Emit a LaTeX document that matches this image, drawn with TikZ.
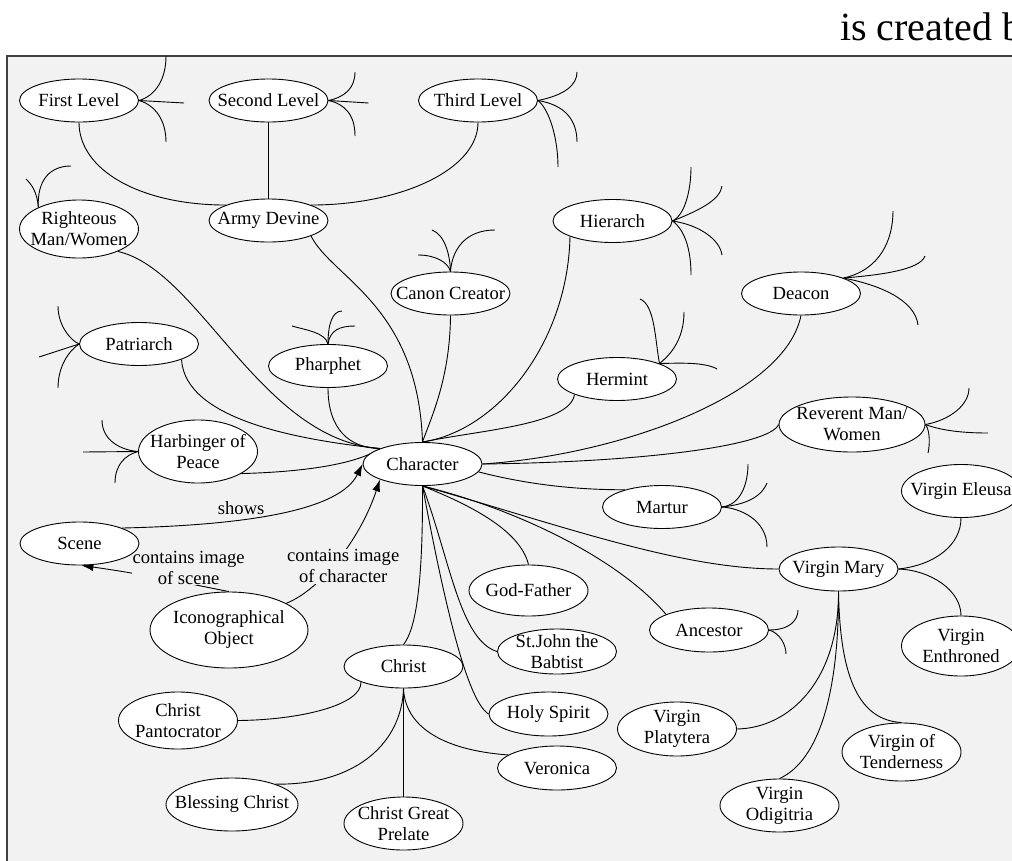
\documentclass[tikz,border=0pt]{standalone}
\usepackage{fontspec}
\setmainfont{Liberation Serif}
\usetikzlibrary{arrows.meta, shapes.geometric, backgrounds}
\definecolor{panelgray}{HTML}{F2F2F2}
\definecolor{framegray}{HTML}{404040}

\begin{document}
\begin{tikzpicture}[x=1pt, y=-1pt,
  ent/.style={ellipse, draw, fill=white, line width=0.9pt,
              minimum width=119pt, minimum height=43pt,
              inner xsep=-26pt, inner ysep=-13pt,
              font=\fontsize{18.6}{21}\selectfont, align=center},
  lnk/.style={line width=0.9pt},
  arr/.style={lnk, -{Latex[length=12pt, width=8pt]}},
  lbl/.style={fill=panelgray, inner sep=1pt, align=center,
              font=\fontsize{18.6}{21}\selectfont},
  panel/.style={draw=framegray, fill=panelgray, line width=1.2pt},
]
\useasboundingbox (0,0) rectangle (1012,860);

\node[font=\fontsize{40}{46}\selectfont, anchor=base west, inner sep=0pt]
  (caption) at (840,40) {is created b};

% ---- Upper levels ----------------------------------------------------------
\node[ent] (first) at (79,100.5) {First Level};
\node[ent] (second) at (268.5,100.5) {Second Level};
\node[ent] (third) at (478,100.5) {Third Level};
\node[ent] (army) at (268.5,220.5) {Army Devine};
\node[ent, minimum height=58pt] (righteous) at (79,229) {Righteous\\Man/Women};
\node[ent] (hierarch) at (612.5,221) {Hierarch};
\node[ent] (deacon) at (801,293.5) {Deacon};
\node[ent] (canon) at (450.5,293.5) {Canon Creator};
\node[ent] (patriarch) at (139,344) {Patriarch};
\node[ent] (pharphet) at (328,366) {Pharphet};
\node[ent] (hermint) at (617,379) {Hermint};
\node[ent, minimum width=146pt, minimum height=55pt] (reverent) at (852,424.5) {Reverent Man/\\Women};
\node[ent, minimum height=63pt] (harbinger) at (198,451.5) {Harbinger of\\Peace};

% ---- Centre ----------------------------------------------------------------
\node[ent] (character) at (422.5,464) {Character};
\node[ent] (martur) at (662,507) {Martur};
\node[ent, minimum height=53pt] (eleusa) at (961,491) {Virgin Eleusa};
\node[ent] (scene) at (79.5,543.5) {Scene};
\node[ent, minimum height=44pt] (mary) at (838.5,569) {Virgin Mary};
\node[ent, minimum height=51pt] (godfather) at (528.5,590.5) {God-Father};
\node[ent, minimum width=158pt, minimum height=76pt] (icon) at (229,630) {Iconographical\\Object};
\node[ent, minimum height=44pt] (ancestor) at (709,630) {Ancestor};
\node[ent, minimum height=45pt] (stjohn) at (557,651.5) {St.John the\\Babtist};
\node[ent, minimum height=60pt] (enthroned) at (961,646) {Virgin\\Enthroned};

% ---- Lower part ------------------------------------------------------------
\node[ent] (christ) at (403.5,666.5) {Christ};
\node[ent, minimum height=44pt] (holyspirit) at (548.5,714) {Holy Spirit};
\node[ent, minimum height=57pt] (pantocrator) at (178,720.5) {Christ\\Pantocrator};
\node[ent, minimum height=54pt] (platytera) at (677,729) {Virgin\\Platytera};
\node[ent, minimum height=58pt] (tenderness) at (901.5,752) {Virgin of\\Tenderness};
\node[ent, minimum height=44pt] (veronica) at (557,768) {Veronica};
\node[ent, minimum width=132pt, minimum height=53pt] (blessing) at (232,804.5) {Blessing Christ};
\node[ent, minimum height=53pt] (odigitria) at (779.5,805.5) {Virgin\\Odigitria};
\node[ent, minimum height=53pt] (prelate) at (403.5,823.5) {Christ Great\\Prelate};

% ---- Free ends of the open branches ----------------------------------------
\coordinate (first-up) at (166,56);
\coordinate (first-out) at (184,103);
\coordinate (first-down) at (166,142);
\coordinate (second-up) at (355,72);
\coordinate (second-out) at (368.5,103);
\coordinate (second-down) at (355,136);
\coordinate (third-up) at (577,72);
\coordinate (third-out) at (577,142);
\coordinate (third-down) at (558,167);
\coordinate (righteous-left) at (26,179);
\coordinate (righteous-right) at (71,166);
\coordinate (canon-left) at (418,255);
\coordinate (canon-up) at (432,230);
\coordinate (canon-right) at (495,230);
\coordinate (pharphet-left) at (292,326);
\coordinate (pharphet-up) at (342,311);
\coordinate (pharphet-right) at (355,326);
\coordinate (patriarch-up) at (58,306);
\coordinate (patriarch-out) at (39,357);
\coordinate (patriarch-down) at (58,388);
\coordinate (harbinger-up) at (102,420);
\coordinate (harbinger-out) at (83,452);
\coordinate (harbinger-down) at (115,483);
\coordinate (hierarch-up) at (691,167);
\coordinate (hierarch-upr) at (722,186);
\coordinate (hierarch-downr) at (722,255);
\coordinate (hierarch-down) at (691,275);
\coordinate (deacon-up) at (893,211);
\coordinate (deacon-out) at (925,256);
\coordinate (deacon-down) at (918,325);
\coordinate (hermint-left) at (640,299);
\coordinate (hermint-up) at (684,312);
\coordinate (hermint-out) at (717,369);
\coordinate (reverent-up) at (969,388);
\coordinate (reverent-out) at (988,433);
\coordinate (reverent-down) at (928,453);
\coordinate (martur-up) at (748,464);
\coordinate (martur-upr) at (767,483);
\coordinate (martur-down) at (767,547);
\coordinate (ancestor-up) at (798,610);
\coordinate (ancestor-down) at (786,654);

\begin{scope}[on background layer]
\fill[white] (0,0) rectangle (1012,860);
\draw[panel] (7,56) rectangle (1040,900);

% ---- Army Devine -----------------------------------------------------------
\draw[lnk] (army.north) -- (second.south);
\draw[lnk] (first.south) .. controls (79,170) and (140,205) .. (army.160);
\draw[lnk] (third.south) .. controls (478,170) and (400,205) .. (army.20);

% ---- Into Character --------------------------------------------------------
\draw[lnk] (army.-20) .. controls (332,278) and (418,305) .. (character.north);
\draw[lnk] (canon.south) .. controls (450,380) and (430,420) .. (character.north);
\draw[lnk] (hierarch.200) .. controls (568,340) and (500,430) .. (character.north);
\draw[lnk] (hermint.200) .. controls (570,425) and (480,430) .. (character.north);
\draw[lnk] (righteous.-30) .. controls (200,270) and (260,440) .. (character.160);
\draw[lnk] (patriarch.-20) .. controls (185,420) and (300,440) .. (character.160);
\draw[lnk] (pharphet.south) .. controls (328,430) and (350,448) .. (character.160);
\draw[lnk] (harbinger.-27) .. controls (300,472) and (355,465) .. (character.160);
\draw[lnk] (deacon.south) .. controls (785,395) and (620,455) .. (character.east);
\draw[lnk] (reverent.west) .. controls (770,445) and (650,462) .. (character.east);
\draw[lnk] (character.-8) .. controls (510,480) and (560,490) .. (martur.155);
\draw[lnk] (character.south) .. controls (560,525) and (680,569) .. (mary.west);
\draw[lnk] (character.south) .. controls (520,510) and (620,560) .. (ancestor.160);
\draw[lnk] (character.south) .. controls (470,505) and (520,530) .. (godfather.north);
\draw[lnk] (character.south) .. controls (450,560) and (460,640) .. (stjohn.west);
\draw[lnk] (character.south) .. controls (440,580) and (465,700) .. (holyspirit.west);
\draw[lnk] (character.south) .. controls (423,590) and (415,630) .. (christ.north);

% ---- Labelled arrows -------------------------------------------------------
\draw[arr] (scene.20) .. controls (250,525) and (340,510)
  .. node[lbl, pos=0.35, yshift=12pt] {shows} (character.west);
\draw[arr] (icon.north) .. controls (210,588) and (150,575)
  .. node[lbl, pos=0.4, yshift=16pt] {contains image\\of scene} (scene.-85);
\draw[arr] (icon.25) .. controls (320,590) and (360,540)
  .. node[lbl, pos=0.55, yshift=-14pt] {contains image\\of character} (character.200);

% ---- Christ ----------------------------------------------------------------
\draw[lnk] (christ.200) .. controls (362,705) and (300,720) .. (pantocrator.east);
\draw[lnk] (christ.south) .. controls (402,740) and (360,785) .. (blessing.25);
\draw[lnk] (christ.south) -- (prelate.north);
\draw[lnk] (christ.south) .. controls (405,725) and (440,750) .. (veronica.165);

% ---- Virgin Mary -----------------------------------------------------------
\draw[lnk] (mary.east) .. controls (935,565) and (961,545) .. (eleusa.south);
\draw[lnk] (mary.east) .. controls (930,570) and (961,590) .. (enthroned.north);
\draw[lnk] (mary.south) .. controls (839,680) and (790,728) .. (platytera.east);
\draw[lnk] (mary.south) .. controls (839,690) and (820,760) .. (odigitria.north);
\draw[lnk] (mary.south) .. controls (840,680) and (860,720) .. (tenderness.north);

% ---- Open branches ---------------------------------------------------------
\draw[lnk] (first.east) .. controls (155,96) and (166,80) .. (first-up);
\draw[lnk] (first.east) -- (first-out);
\draw[lnk] (first.east) .. controls (155,105) and (166,120) .. (first-down);
\draw[lnk] (second.east) .. controls (345,97) and (355,88) .. (second-up);
\draw[lnk] (second.east) -- (second-out);
\draw[lnk] (second.east) .. controls (345,104) and (355,115) .. (second-down);
\draw[lnk] (third.east) .. controls (565,95) and (577,85) .. (third-up);
\draw[lnk] (third.east) .. controls (565,105) and (577,120) .. (third-out);
\draw[lnk] (third.east) .. controls (550,110) and (558,140) .. (third-down);
\draw[lnk] (righteous.152) .. controls (37,190) and (30,183) .. (righteous-left);
\draw[lnk] (righteous.152) .. controls (37,180) and (50,166) .. (righteous-right);
\draw[lnk] (canon.north) .. controls (448,262) and (435,255) .. (canon-left);
\draw[lnk] (canon.north) .. controls (450,255) and (445,235) .. (canon-up);
\draw[lnk] (canon.north) .. controls (452,250) and (465,230) .. (canon-right);
\draw[lnk] (pharphet.north) .. controls (325,332) and (305,330) .. (pharphet-left);
\draw[lnk] (pharphet.north) .. controls (328,325) and (332,311) .. (pharphet-up);
\draw[lnk] (pharphet.north) .. controls (330,330) and (340,326) .. (pharphet-right);
\draw[lnk] (patriarch.west) .. controls (70,340) and (58,325) .. (patriarch-up);
\draw[lnk] (patriarch.west) -- (patriarch-out);
\draw[lnk] (patriarch.west) .. controls (70,350) and (58,365) .. (patriarch-down);
\draw[lnk] (harbinger.west) .. controls (120,450) and (102,440) .. (harbinger-up);
\draw[lnk] (harbinger.west) -- (harbinger-out);
\draw[lnk] (harbinger.west) .. controls (125,455) and (115,465) .. (harbinger-down);
\draw[lnk] (hierarch.east) .. controls (685,215) and (691,190) .. (hierarch-up);
\draw[lnk] (hierarch.east) .. controls (700,210) and (720,200) .. (hierarch-upr);
\draw[lnk] (hierarch.east) .. controls (700,225) and (720,240) .. (hierarch-downr);
\draw[lnk] (hierarch.east) .. controls (685,230) and (691,250) .. (hierarch-down);
\draw[lnk] (deacon.20) .. controls (880,270) and (893,240) .. (deacon-up);
\draw[lnk] (deacon.20) .. controls (880,275) and (920,270) .. (deacon-out);
\draw[lnk] (deacon.20) .. controls (880,285) and (915,300) .. (deacon-down);
\draw[lnk] (hermint.20) .. controls (655,340) and (655,305) .. (hermint-left);
\draw[lnk] (hermint.20) .. controls (670,355) and (684,340) .. (hermint-up);
\draw[lnk] (hermint.20) .. controls (680,363) and (705,362) .. (hermint-out);
\draw[lnk] (reverent.east) .. controls (950,420) and (969,405) .. (reverent-up);
\draw[lnk] (reverent.east) .. controls (940,430) and (960,433) .. (reverent-out);
\draw[lnk] (reverent.east) .. controls (930,430) and (930,445) .. (reverent-down);
\draw[lnk] (martur.east) .. controls (740,505) and (748,485) .. (martur-up);
\draw[lnk] (martur.east) .. controls (740,505) and (760,500) .. (martur-upr);
\draw[lnk] (martur.east) .. controls (740,508) and (767,520) .. (martur-down);
\draw[lnk] (ancestor.east) .. controls (790,630) and (798,620) .. (ancestor-up);
\draw[lnk] (ancestor.east) .. controls (780,633) and (786,645) .. (ancestor-down);
\end{scope}

\end{tikzpicture}
\end{document}
